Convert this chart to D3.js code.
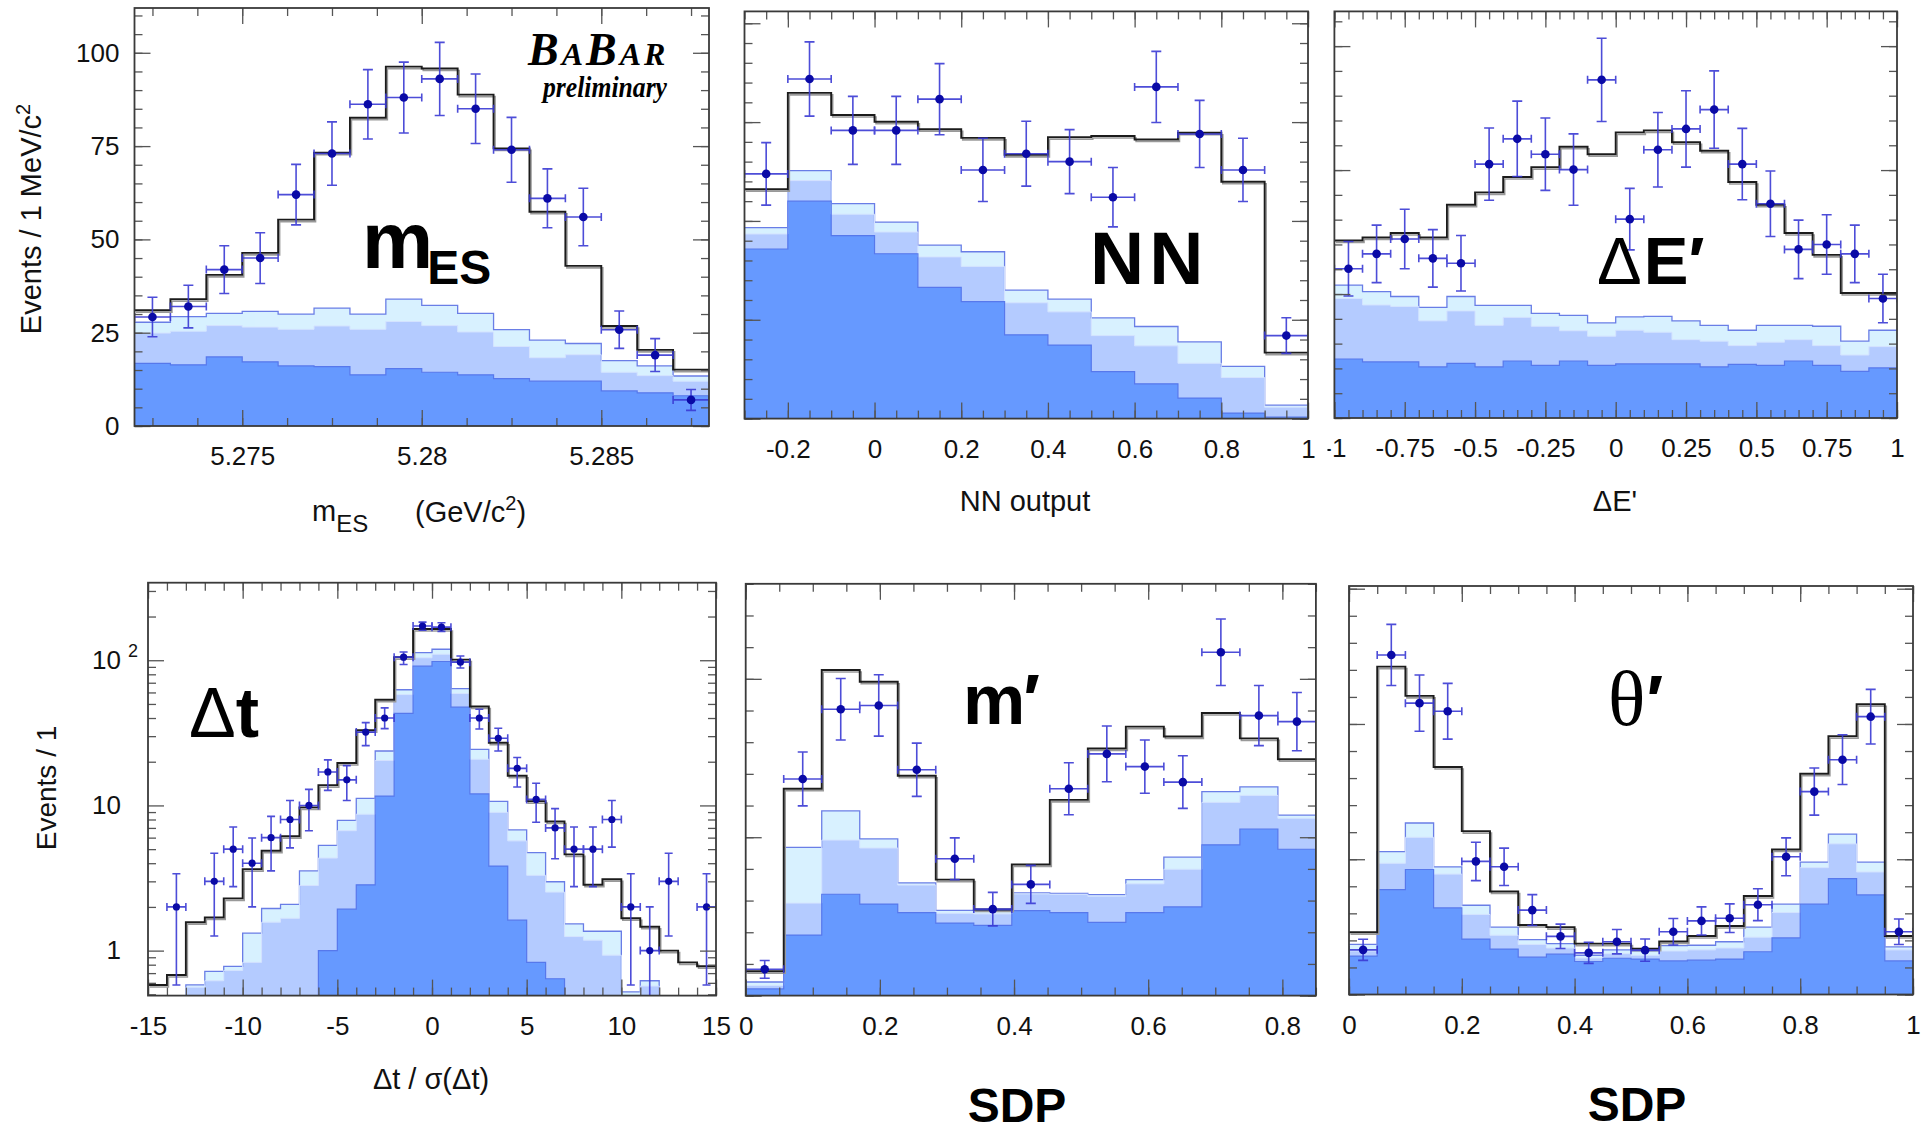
<!DOCTYPE html>
<html>
<head>
<meta charset="utf-8">
<title>Fit projections</title>
<script src="https://d3js.org/d3.v7.min.js"></script>
<style>
body{margin:0;background:#fff;}
svg{display:block;}
text{font-family:"Liberation Sans", Arial, Helvetica, sans-serif;}
.serif{font-family:"Liberation Serif", "Times New Roman", serif;}
</style>
</head>
<body>
<svg id="chart" width="1927" height="1134"></svg>
<script>

// ---- mES ----
var mesData  = [29.2, 32, 41.9, 45, 62, 73, 86.2, 88, 93, 85, 74, 61, 56, 25.8, 19, 7];
var mesErr   = [5.3, 5.7, 6.4, 6.8, 8.1, 8.5, 9.3, 9.5, 9.8, 9.3, 8.7, 7.9, 7.7, 5.0, 4.4, 2.8];
var mesTotal = [31, 34, 40.5, 46.4, 55.3, 73.2, 82.6, 96.3, 95.8, 88.8, 74.4, 57.4, 42.9, 26.8, 20.4, 15.1];
var mesDark  = [16.8, 16.4, 18.5, 17.2, 16.1, 15.9, 13.7, 15.4, 14.4, 13.7, 12.7, 12, 12, 9.4, 8.9, 8.1];
var mesMid   = [24.9, 25.4, 26.9, 26.5, 25.9, 26.8, 25.9, 28, 26.9, 25.2, 21.3, 18.3, 19.1, 14.4, 13.5, 12];
var mesLight = [27.8, 29.3, 30.2, 30.7, 30, 31.6, 30, 34, 32.3, 30.2, 25.8, 23, 22.1, 17.5, 16.1, 13.4];
var mesTicks = [5.275, 5.28, 5.285];

// ---- NN output ----
var nnData  = [61.9, 85.9, 72.9, 72.9, 80.8, 62.9, 67, 65, 56, 83.9, 72, 62.9, 21];
var nnErr   = [7.9, 9.4, 8.6, 8.6, 9.0, 8.0, 8.2, 8.1, 7.5, 9.0, 8.5, 8.0, 4.5];
var nnTotal = [58, 82.4, 76.8, 75.1, 73.2, 71, 66.7, 71.2, 71.5, 70.6, 72.3, 59.9, 16.7];
var nnDark  = [42.9, 55, 46.3, 41.7, 33.2, 29.6, 21.2, 18.6, 11.9, 8.8, 5.2, 1.4, 0.4];
var nnMid   = [46.7, 60.2, 51.7, 47.2, 40.9, 38.5, 29.3, 27, 21, 18.4, 14, 10.4, 2.9];
var nnLight = [48.3, 62.7, 54.4, 49.7, 43.9, 42.2, 32.5, 30.2, 25.5, 23.3, 19.4, 13.2, 3.4];
var nnTicks = [-0.2, 0, 0.2, 0.4, 0.6, 0.8, 1];

// ---- Delta E' ----
var deData  = [30.1, 33.1, 36.1, 32.2, 31.2, 51.2, 56.3, 53.2, 50.1, 68.2, 40.1, 54.1, 58.3, 62.2, 51.2, 43.2, 34, 35, 33.1, 24.1];
var deErr   = [5.5, 5.8, 6.0, 5.8, 5.6, 7.3, 7.6, 7.3, 7.2, 8.4, 6.2, 7.5, 7.7, 7.8, 7.2, 6.6, 5.9, 6.0, 5.8, 4.9];
var deTotal = [35.8, 36.4, 37.3, 36.4, 43.0, 45.5, 48.6, 50.6, 54.7, 53.2, 57.6, 58.0, 55.6, 53.9, 47.6, 43.0, 37.3, 32.9, 25.2, 25.2];
var deDark  = [11.9, 11.3, 11.3, 10.3, 11, 10.3, 11.5, 10.6, 11.5, 10.6, 10.9, 10.9, 10.9, 10.3, 10.8, 10.6, 11.5, 10.6, 9.4, 10.1];
var deMid   = [24.1, 22.8, 22.5, 19.6, 21.6, 18.7, 20.3, 18.5, 17.6, 16.5, 17.7, 17.3, 15.8, 15.5, 14.6, 15.3, 15.8, 14.6, 12.7, 14.4];
var deLight = [26.8, 25.5, 24.5, 22.3, 24.5, 22.7, 22.7, 21.1, 20.7, 19.2, 20.4, 20.5, 19.6, 18.7, 17.7, 18.7, 18.7, 18.5, 15.5, 17.7];
var deTicks = [-1, -0.75, -0.5, -0.25, 0, 0.25, 0.5, 0.75, 1];

// ---- Delta t / sigma (log) ----
var dtData  = [null, 2, null, 3, 5, 4, 6, 8, 10, 17, 15, 32, 40, 105, 172, 169, 97, 40, 29, 18, 11, 7, 5, 5, 8, 2, 1, 3, null, 2];
var dtUpper = [null, 3.38, null, 4.68, 7.1, 5.96, 8.4, 10.8, 12.9, 20.6, 18.8, 37.2, 47, 114, 183, 181, 107, 46, 34, 21.4, 14.2, 9.5, 7.1, 7.1, 10.8, 3.38, 2.0, 4.68, null, 3.38];
var dtLower = [null, 0.58, null, 1.26, 2.76, 2.0, 3.54, 5.1, 6.7, 12.7, 10.8, 25.8, 33.8, 93.5, 161, 158, 88.5, 33.6, 23.7, 13.4, 7.66, 4.29, 2.76, 2.76, 5.16, 0.58, 0.3, 1.26, null, 0.58];
var dtTotal = [0.58, 0.68, 1.57, 1.69, 2.29, 3.64, 4.87, 6.14, 9.7, 13.8, 19.6, 33, 53.5, 105, 164, 164, 101, 48, 27, 16, 10.7, 7.75, 4.6, 2.84, 3.1, 1.67, 1.46, 1.0, 0.83, 0.78];
var dtDark  = [0, 0, 0, 0, 0, 0, 0, 0, 0, 1.0, 1.93, 2.84, 11.6, 43, 91, 98, 47.5, 12, 3.82, 1.62, 0.83, 0.64, 0, 0, 0, 0, 0, 0, 0, 0];
var dtMid   = [0, 0, 0.56, 0.62, 0.73, 0.83, 1.57, 1.67, 2.81, 4.34, 6.7, 8.7, 20.4, 58, 104, 110, 59, 20.8, 8.96, 5.7, 3.3, 2.53, 1.25, 1.18, 0.93, 0, 0.57, 0, 0, 0];
var dtLight = [0, 0, 0.58, 0.72, 0.78, 1.32, 1.95, 2.08, 3.54, 5.3, 7.9, 11.2, 23.7, 62.6, 113, 119, 63.7, 24.3, 10.66, 6.78, 4.73, 2.98, 1.53, 1.36, 1.36, 0.52, 0.62, 0, 0, 0];
var dtTicks = [-15, -10, -5, 0, 5, 10, 15];

// ---- m' (SDP) ----
var mpData  = [8.3, 68.4, 90.4, 91.6, 71.3, 43.2, 27.3, 35.1, 65.3, 76.3, 72.3, 67.4, 108.4, 88.4, 86.5];
var mpErr   = [2.8, 8.5, 9.7, 9.7, 8.4, 6.6, 5.3, 6.0, 8.2, 8.8, 8.4, 8.3, 10.5, 9.5, 9.2];
var mpTotal = [7.7, 65.3, 102.8, 99.1, 69.4, 36.6, 27.2, 41.4, 61.8, 78, 84.9, 81.8, 89.2, 81.2, 74.6];
var mpDark  = [2.1, 19.1, 32, 28.9, 26.2, 22.9, 22.2, 26.8, 26.2, 23.1, 26.2, 28, 47.6, 52.6, 46.2];
var mpMid   = [3.2, 29.2, 49.1, 46.6, 34.9, 26, 25.8, 32.1, 32, 31.4, 35.3, 39.9, 61, 63.2, 56];
var mpLight = [4.3, 46.8, 58.3, 49.5, 35.6, 26.9, 26.9, 32.4, 32.3, 31.9, 36.6, 43.7, 64.4, 65.9, 57];
var mpTicks = [0, 0.2, 0.4, 0.6, 0.8];

// ---- theta' (SDP) ----
var thData  = [16.5, 125.5, 107.7, 104.7, 49.2, 47.2, 31.2, 21.5, 15.4, 19.5, 16.4, 23.2, 27.2, 28.2, 33.2, 50.9, 75, 86.8, 102.7, 23.2];
var thErr   = [3.9, 11.3, 10.4, 10.3, 7.1, 6.9, 5.7, 4.5, 3.9, 4.5, 4.1, 4.9, 5.2, 5.3, 5.9, 7.0, 8.7, 9.2, 10.1, 4.7];
var thTotal = [23, 121.2, 110.4, 84.1, 60.4, 38.1, 25.7, 24.9, 18.8, 18.8, 16.9, 19.6, 21.6, 25.3, 36.4, 53.6, 81.6, 95.5, 107.3, 21.6];
var thDark  = [14.2, 38.8, 46.2, 32, 20.5, 16.8, 13.8, 14.9, 12.2, 13.4, 13.1, 12.4, 12.7, 13.1, 15.8, 20.9, 33.4, 42.8, 36.8, 12.4];
var thMid   = [16.1, 48.5, 58.1, 44.5, 29.6, 21.9, 18.5, 17.2, 13.5, 15.1, 14.5, 16.1, 16.5, 17.2, 21.2, 30.3, 46.9, 55.7, 45.3, 16.5];
var thLight = [18.5, 52.8, 63.4, 47.2, 33, 24.9, 20.3, 18.8, 14.5, 16.5, 16.1, 18.1, 18.2, 19.5, 24.9, 33.4, 48.9, 59.3, 48.9, 17.6];
var thTicks = [0, 0.2, 0.4, 0.6, 0.8, 1];

var logMinor = [0.5,0.6,0.7,0.8,0.9,2,3,4,5,6,7,8,9,20,30,40,50,60,70,80,90,200,300];

var svg = d3.select('#chart');
svg.append('rect').attr('width', 1927).attr('height', 1134).attr('fill', '#fff');

var panels = [
	{id:'mes', box:[134.5, 709, 8, 426], xDomain:[5.272, 5.288], yDomain:[0, 112],
	 data:mesData, err:mesErr, total:mesTotal, dark:mesDark, mid:mesMid, light:mesLight,
	 xMajor:mesTicks, xMinor:d3.range(13).map(function(i){return 5.2725 + i*0.00125;}),
	 yMajor:[0,25,50,75,100], yMinor:d3.range(0,112,5), yLabels:true, yPad:15},
	{id:'nn', box:[744.5, 1308, 11.4, 418.6], xDomain:[-0.3, 1], yDomain:[0, 103],
	 data:nnData, err:nnErr, total:nnTotal, dark:nnDark, mid:nnMid, light:nnLight,
	 xMajor:nnTicks, xMinor:d3.range(27).map(function(i){return -0.3 + i*0.05;}),
	 yMajor:[0,25,50,75,100], yMinor:d3.range(0,103,5)},
	{id:'de', box:[1334.4, 1897, 11.4, 418], xDomain:[-1, 1], yDomain:[0, 82],
	 data:deData, err:deErr, total:deTotal, dark:deDark, mid:deMid, light:deLight,
	 xMajor:deTicks, xMinor:d3.range(41).map(function(i){return -1 + i*0.05;}),
	 yMajor:[0,25,50,75], yMinor:d3.range(0,82,5), clipLabels:1327.5},
	{id:'dt', box:[148, 716, 582.7, 995.6], xDomain:[-15, 15], yDomain:[0.49, 342], log:true,
	 data:dtData, upper:dtUpper, lower:dtLower, total:dtTotal, dark:dtDark, mid:dtMid, light:dtLight,
	 xMajor:dtTicks, xMinor:d3.range(-15,16,1),
	 yMajor:[1,10,100], yMinor:logMinor, yLabels:true, yPad:27, dotR:3.6, cap:4},
	{id:'mp', box:[745.7, 1315.9, 583.8, 995.6], xDomain:[0, 0.85], yDomain:[0, 130],
	 data:mpData, err:mpErr, total:mpTotal, dark:mpDark, mid:mpMid, light:mpLight,
	 xMajor:mpTicks, xMinor:d3.range(18).map(function(i){return i*0.05;}),
	 yMajor:[0,50,100], yMinor:d3.range(0,131,10)},
	{id:'th', box:[1349, 1913, 586, 994.5], xDomain:[0, 1], yDomain:[0, 151],
	 data:thData, err:thErr, total:thTotal, dark:thDark, mid:thMid, light:thLight,
	 xMajor:thTicks, xMinor:d3.range(21).map(function(i){return i*0.05;}),
	 yMajor:[0,50,100,150], yMinor:d3.range(0,151,10)}
];

panels.forEach(drawPanel);

function drawPanel(p){
	var g = svg.append('g').attr('class', 'panel-' + p.id);
	var x = d3.scaleLinear().domain(p.xDomain).range([p.box[0], p.box[1]]);
	var y = (p.log ? d3.scaleLog() : d3.scaleLinear()).domain(p.yDomain).range([p.box[3], p.box[2]]);
	var ymin = p.yDomain[0];
	var n = p.total.length;
	var w = (p.xDomain[1] - p.xDomain[0]) / n;
	var edges = d3.range(n + 1).map(function(i){ return p.xDomain[0] + i * w; });
	function fy(v){ return y(Math.max(v, ymin)); }
	function steps(vals){
		var pts = vals.map(function(v, i){ return [edges[i], v]; });
		pts.push([edges[n], vals[n - 1]]);
		return pts;
	}

	svg.append('clipPath').attr('id', 'clip-' + p.id)
		.append('rect')
			.attr('x', p.box[0]).attr('y', p.box[2])
			.attr('width', p.box[1] - p.box[0]).attr('height', p.box[3] - p.box[2]);

	var plot = g.append('g').attr('clip-path', 'url(#clip-' + p.id + ')');

	var area = d3.area().curve(d3.curveStepAfter)
		.x(function(d){ return x(d[0]); })
		.y0(y(ymin))
		.y1(function(d){ return fy(d[1]); });
	var line = d3.line().curve(d3.curveStepAfter)
		.x(function(d){ return x(d[0]); })
		.y(function(d){ return fy(d[1]); });

	var layers = [
		{vals:p.light, fill:'#d8f1ff', stroke:'#6a7ee6', sw:1.3},
		{vals:p.mid,   fill:'#b4cbff', stroke:'#d4e3ff', sw:1},
		{vals:p.dark,  fill:'#6699ff', stroke:'#5778ec', sw:1.2}
	];
	plot.selectAll('path.layer').data(layers).join('path')
		.attr('class', 'layer')
		.attr('d', function(d){ return area(steps(d.vals)); })
		.attr('fill', function(d){ return d.fill; });
	plot.selectAll('path.edge').data(layers).join('path')
		.attr('class', 'edge')
		.attr('d', function(d){ return line(steps(d.vals)); })
		.attr('fill', 'none')
		.attr('stroke', function(d){ return d.stroke; })
		.attr('stroke-width', function(d){ return d.sw; });

	// total fit
	plot.append('path')
		.attr('d', line(steps(p.total)))
		.attr('transform', 'translate(1.5,2)')
		.attr('fill', 'none').attr('stroke', '#9a9a9a').attr('stroke-width', 1.6);
	plot.append('path')
		.attr('d', line(steps(p.total)))
		.attr('fill', 'none').attr('stroke', '#1c1c1c').attr('stroke-width', 1.9);

	// data points
	var pts = p.data.map(function(v, i){
		return {
			v: v, i: i,
			hi: p.upper ? p.upper[i] : (v == null ? null : v + p.err[i]),
			lo: p.lower ? p.lower[i] : (v == null ? null : v - p.err[i])
		};
	}).filter(function(d){ return d.v != null; });

	var cap = p.cap || 5;
	plot.append('g')
		.attr('fill', 'none').attr('stroke', '#3a3ad4').attr('stroke-width', 1.6).attr('opacity', 0.9)
		.selectAll('path').data(pts).join('path')
		.attr('d', function(d){
			var cx = x(edges[d.i] + w / 2), cy = y(d.v);
			var xl = x(edges[d.i]), xr = x(edges[d.i + 1]);
			var yt = y(d.hi);
			var yb = p.log ? y(Math.max(d.lo, ymin * 0.5)) : y(d.lo);
			return 'M' + xl + ',' + cy + 'H' + xr +
				'M' + xl + ',' + (cy - 4) + 'V' + (cy + 4) +
				'M' + xr + ',' + (cy - 4) + 'V' + (cy + 4) +
				'M' + cx + ',' + yt + 'V' + yb +
				'M' + (cx - cap) + ',' + yt + 'H' + (cx + cap) +
				'M' + (cx - cap) + ',' + yb + 'H' + (cx + cap);
		});
	plot.append('g').selectAll('circle').data(pts).join('circle')
		.attr('cx', function(d){ return x(edges[d.i] + w / 2); })
		.attr('cy', function(d){ return y(d.v); })
		.attr('r', p.dotR || 4.3)
		.attr('fill', '#0a0aa6');

	// axes (ticks inside on all four sides)
	var T = 16, t = 8;
	function style(sel){
		sel.select('.domain').remove();
		sel.selectAll('.tick line').attr('stroke', '#555').attr('stroke-width', 1.3);
		sel.attr('font-family', '"Liberation Sans", Arial, sans-serif').attr('font-size', 26);
		sel.selectAll('.tick text').attr('fill', '#111');
	}
	var bottom = g.append('g');
	bottom.append('g').attr('transform', 'translate(0,' + p.box[3] + ')')
		.call(d3.axisBottom(x).tickValues(p.xMinor).tickSize(-t).tickFormat('')).call(style);
	bottom.append('g').attr('transform', 'translate(0,' + p.box[3] + ')')
		.call(d3.axisBottom(x).tickValues(p.xMajor).tickSize(-T).tickPadding(21)
		.tickFormat(function(d){ return String(d); })).call(style);
	if (p.clipLabels){
		// the neighbouring panel's edge covers most of the first label
		svg.append('clipPath').attr('id', 'lab-' + p.id).append('rect')
			.attr('x', p.clipLabels).attr('y', 0)
			.attr('width', 1927).attr('height', 1134);
		bottom.attr('clip-path', 'url(#lab-' + p.id + ')');
	}
	var top = g.append('g').attr('transform', 'translate(0,' + p.box[2] + ')');
	top.append('g').call(d3.axisTop(x).tickValues(p.xMinor).tickSize(-t).tickFormat('')).call(style);
	top.append('g').call(d3.axisTop(x).tickValues(p.xMajor).tickSize(-T).tickFormat('')).call(style);

	var left = g.append('g').attr('transform', 'translate(' + p.box[0] + ',0)');
	left.append('g').call(d3.axisLeft(y).tickValues(p.yMinor).tickSize(-t).tickFormat('')).call(style);
	var ylab = left.append('g').call(d3.axisLeft(y).tickValues(p.yMajor).tickSize(-T).tickPadding(p.yPad || 10)
		.tickFormat(function(d){ return p.yLabels ? (d === 100 && p.log ? '10' : String(d)) : ''; })).call(style);
	if (p.log){
		ylab.selectAll('.tick text').filter(function(d){ return d === 100; })
			.attr('x', -10)
			.append('tspan').attr('dx', 7).attr('dy', -12).attr('font-size', 18).text('2');
	}
	var right = g.append('g').attr('transform', 'translate(' + p.box[1] + ',0)');
	right.append('g').call(d3.axisRight(y).tickValues(p.yMinor).tickSize(-t).tickFormat('')).call(style);
	right.append('g').call(d3.axisRight(y).tickValues(p.yMajor).tickSize(-T).tickFormat('')).call(style);

	g.append('rect')
		.attr('x', p.box[0]).attr('y', p.box[2])
		.attr('width', p.box[1] - p.box[0]).attr('height', p.box[3] - p.box[2])
		.attr('fill', 'none').attr('stroke', '#3a3a3a').attr('stroke-width', 1.8);
}

// ---- axis titles ----
var tx = svg.append('g').attr('fill', '#111').attr('font-size', 29);

var yt1 = tx.append('text').attr('transform', 'translate(41,219) rotate(-90)').attr('text-anchor', 'middle');
yt1.append('tspan').text('Events / 1 MeV/c');
yt1.append('tspan').attr('dy', -11).attr('font-size', 20).text('2');

var xt1 = tx.append('text').attr('x', 312).attr('y', 521);
xt1.append('tspan').text('m');
xt1.append('tspan').attr('dy', 11).attr('font-size', 24).text('ES');
var xt1b = tx.append('text').attr('x', 415).attr('y', 522);
xt1b.append('tspan').text('(GeV/c');
xt1b.append('tspan').attr('dy', -12).attr('font-size', 20).text('2');
xt1b.append('tspan').attr('dy', 12).text(')');

tx.append('text').attr('x', 1025).attr('y', 511).attr('text-anchor', 'middle').text('NN output');
tx.append('text').attr('x', 1615).attr('y', 511).attr('text-anchor', 'middle').text('ΔE\'');

tx.append('text').attr('x', 431).attr('y', 1089).attr('text-anchor', 'middle').text('Δt / σ(Δt)');
tx.append('text').attr('transform', 'translate(56,788) rotate(-90)').attr('text-anchor', 'middle')
	.attr('font-size', 28).text('Events / 1');

tx.append('text').attr('x', 1017).attr('y', 1122).attr('text-anchor', 'middle')
	.attr('font-size', 48).attr('font-weight', 'bold').attr('fill', '#000').text('SDP');
tx.append('text').attr('x', 1637).attr('y', 1121).attr('text-anchor', 'middle')
	.attr('font-size', 48).attr('font-weight', 'bold').attr('fill', '#000').text('SDP');

// ---- big variable labels ----
var big = svg.append('g').attr('fill', '#000').attr('font-weight', 'bold');

var l1 = big.append('text').attr('x', 362).attr('y', 268).attr('font-size', 80);
l1.append('tspan').text('m');
l1.append('tspan').attr('dy', 16).attr('dx', -6).attr('font-size', 48).text('ES');

big.append('text').attr('x', 1090).attr('y', 284).attr('font-size', 75)
	.attr('letter-spacing', 5).text('NN');

var l3 = big.append('text').attr('x', 1597).attr('y', 284).attr('font-size', 67);
l3.append('tspan').attr('font-weight', 'normal').text('Δ');
l3.append('tspan').attr('dx', 2).text('E′');

var l4 = big.append('text').attr('x', 189).attr('y', 737).attr('font-size', 70);
l4.append('tspan').attr('font-weight', 'normal').text('Δ');
l4.append('tspan').text('t');

var l5 = big.append('text').attr('x', 963).attr('y', 724).attr('font-size', 70);
l5.append('tspan').text('m');
l5.append('tspan').attr('dx', -2).text('′');

var l6 = big.append('text').attr('x', 1608).attr('y', 725).attr('font-size', 78);
l6.append('tspan').attr('class', 'serif').attr('font-weight', 'normal').text('θ');
l6.append('tspan').attr('dx', 1).attr('font-size', 70).text('′');

// ---- experiment tag ----
var tag = svg.append('g').attr('fill', '#000').attr('font-weight', 'bold').attr('font-style', 'italic');
var bb = tag.append('text').attr('class', 'serif').attr('x', 528).attr('y', 65).attr('letter-spacing', 3);
bb.append('tspan').attr('font-size', 46).text('B');
bb.append('tspan').attr('font-size', 32).text('A');
bb.append('tspan').attr('font-size', 46).text('B');
bb.append('tspan').attr('font-size', 32).text('AR');
tag.append('text').attr('class', 'serif').attr('x', 543).attr('y', 96.5).attr('font-size', 29)
	.attr('textLength', 124).attr('lengthAdjust', 'spacingAndGlyphs').text('preliminary');

</script>
</body>
</html>
